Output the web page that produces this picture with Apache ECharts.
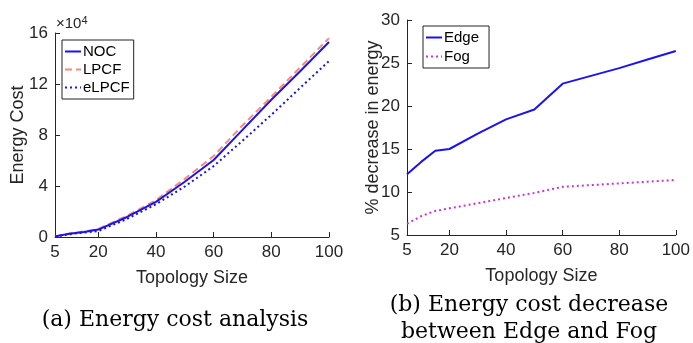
<!DOCTYPE html>
<html>
<head>
<meta charset="utf-8">
<script src="https://cdn.jsdelivr.net/npm/echarts@6/dist/echarts.min.js"></script>
<style>
  html, body { margin: 0; padding: 0; background: #fff; }
  #chart { width: 693px; height: 343px; }
</style>
</head>
<body>
<div id="chart"></div>
<script>
// (a) energy cost vs topology size
const sizesA = [5, 10, 15, 20, 30, 40, 50, 60, 70, 80, 90, 100];
const noc = [500, 2600, 4000, 5800, 15700, 27600, 43300, 60400, 84000, 107600, 130000, 153000];
const lpcf = [600, 2800, 4300, 6300, 16700, 28900, 45600, 63500, 87500, 110000, 133000, 156000];
const elpcf = [300, 2200, 3500, 4700, 14200, 25700, 39600, 55600, 75500, 95800, 117000, 138000];

// (b) % decrease in energy
const sizesB = [5, 10, 15, 20, 30, 40, 50, 60, 70, 80, 90, 100];
const edge = [12.05, 13.5, 14.8, 15.0, 16.8, 18.45, 19.6, 22.6, 23.5, 24.4, 25.4, 26.4];
const fog = [6.3, 7.2, 7.8, 8.1, 8.7, 9.3, 9.9, 10.6, 10.8, 11.0, 11.2, 11.4];

const xTicks = [5, 20, 40, 60, 80, 100];

const axisColor = '#262626';
const labelFont = 'Liberation Sans';
const captionFont = '22px "DejaVu Serif"';

const pairs = (xs, ys) => xs.map((x, i) => [x, ys[i]]);

function xAxisFor(gridIndex) {
  return {
    type: 'value',
    gridIndex,
    min: 5,
    max: 100,
    name: 'Topology Size',
    nameLocation: 'middle',
    nameGap: 32,
    nameMoveOverlap: false,
    nameTextStyle: { color: axisColor, fontSize: 18, fontFamily: labelFont },
    axisLine: { show: true, lineStyle: { color: axisColor, width: 1 } },
    axisTick: { show: true, inside: true, length: 5, customValues: xTicks, lineStyle: { color: axisColor } },
    axisLabel: { customValues: xTicks, color: axisColor, fontSize: 17, fontFamily: labelFont, margin: 7 },
    splitLine: { show: false },
  };
}

function yAxisFor(gridIndex, name, min, max, interval, nameGap, formatter) {
  return {
    type: 'value',
    gridIndex,
    min,
    max,
    interval,
    name,
    nameLocation: 'middle',
    nameGap,
    nameMoveOverlap: false,
    nameTextStyle: { color: axisColor, fontSize: 18, fontFamily: labelFont },
    axisLine: { show: true, lineStyle: { color: axisColor } },
    axisTick: { show: true, inside: true, length: 5, lineStyle: { color: axisColor } },
    axisLabel: { color: axisColor, fontSize: 17, fontFamily: labelFont, margin: 7, formatter },
    splitLine: { show: false },
  };
}

function legendAt(names, left, top, gap, padRight) {
  return {
    data: names,
    orient: 'vertical',
    left,
    top,
    itemWidth: 16,
    itemHeight: 10,
    itemGap: gap,
    padding: [4, padRight, 4, 2],
    borderColor: '#222',
    borderWidth: 1,
    backgroundColor: '#fff',
    itemStyle: { opacity: 0 },
    textStyle: { color: '#000', fontSize: 15, fontFamily: labelFont, padding: [0, 0, 0, -3] },
  };
}

const chart = echarts.init(document.getElementById('chart'));

chart.setOption({
  animation: false,
  grid: [
    { left: 55, top: 33, width: 274, height: 204 },
    { left: 407, top: 20, width: 272, height: 215 },
  ],
  xAxis: [xAxisFor(0), xAxisFor(1)],
  yAxis: [
    yAxisFor(0, 'Energy Cost', 0, 160000, 40000, 28, (v) => String(v / 10000)),
    yAxisFor(1, '% decrease in energy', 5, 30, 5, 25),
  ],
  legend: [
    legendAt(['NOC', 'LPCF', 'eLPCF'], 62, 40, 3, 4),
    legendAt(['Edge', 'Fog'], 423, 26, 4, 10),
  ],
  series: [
    { name: 'NOC', type: 'line', xAxisIndex: 0, yAxisIndex: 0, symbol: 'none', z: 3,
      data: pairs(sizesA, noc), lineStyle: { color: '#1a12f5', width: 2 }, itemStyle: { color: '#1a12f5' } },
    { name: 'LPCF', type: 'line', xAxisIndex: 0, yAxisIndex: 0, symbol: 'none', z: 2,
      data: pairs(sizesA, lpcf), lineStyle: { color: '#fa8a76', width: 2, type: [7, 4] }, itemStyle: { color: '#fa8a76' } },
    { name: 'eLPCF', type: 'line', xAxisIndex: 0, yAxisIndex: 0, symbol: 'none', z: 4,
      data: pairs(sizesA, elpcf), lineStyle: { color: '#1a12f5', width: 2, type: [2, 3] }, itemStyle: { color: '#1a12f5' } },
    { name: 'Edge', type: 'line', xAxisIndex: 1, yAxisIndex: 1, symbol: 'none',
      data: pairs(sizesB, edge), lineStyle: { color: '#1a12f5', width: 2 }, itemStyle: { color: '#1a12f5' } },
    { name: 'Fog', type: 'line', xAxisIndex: 1, yAxisIndex: 1, symbol: 'none',
      data: pairs(sizesB, fog), lineStyle: { color: '#d230dc', width: 2, type: [2, 3] }, itemStyle: { color: '#d230dc' } },
  ],
  graphic: [
    { type: 'text', left: 56, top: 15,
      style: { text: '×10{s|4}', fill: axisColor, fontSize: 15, fontFamily: labelFont,
        rich: { s: { fontSize: 11, fontFamily: labelFont, fill: axisColor, verticalAlign: 'top', padding: [0, 0, 7, 0] } } } },
    { type: 'text', x: 175, y: 320,
      style: { text: '(a) Energy cost analysis', fill: '#000', font: captionFont, align: 'center', verticalAlign: 'middle' } },
    { type: 'text', x: 529, y: 319,
      style: { text: '(b) Energy cost decrease\nbetween Edge and Fog', fill: '#000', font: captionFont,
        align: 'center', verticalAlign: 'middle', lineHeight: 27 } },
  ],
});
</script>
</body>
</html>
